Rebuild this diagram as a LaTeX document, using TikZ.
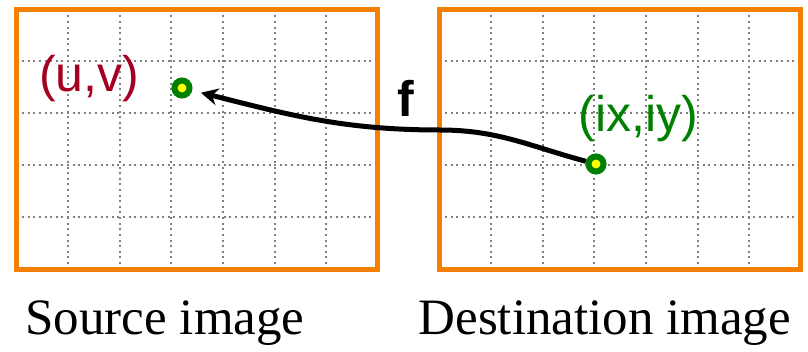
\documentclass[tikz,border=0pt]{standalone}
\usepackage{fontspec}
\setmainfont{Liberation Serif}
\newfontfamily\labelsans{Liberation Sans}
\usetikzlibrary{arrows.meta}
\usepackage{xcolor}
\definecolor{frameorange}{HTML}{F57F00}
\definecolor{gridgray}{HTML}{808080}
\definecolor{pointgreen}{HTML}{008000}
\definecolor{pointyellow}{HTML}{FFFF00}
\definecolor{coordred}{HTML}{A50021}

\tikzset{
  imgframe/.style={draw=frameorange, line width=5pt},
  pixgrid/.style={gridgray, line width=2pt, dash pattern=on 2pt off 3.6pt},
  samplept/.style={circle, draw=pointgreen, fill=pointyellow, line width=6pt,
    minimum size=15pt, inner sep=0pt},
  mapline/.style={-{Stealth[length=17pt,width=17pt]}, line width=5pt, shorten >=9pt},
  coordtext/.style={anchor=base, font=\labelsans\fontsize{50}{50}\selectfont},
  captext/.style={anchor=base west, font=\fontsize{51}{51}\selectfont},
}

\begin{document}
\begin{tikzpicture}[x=1pt, y=1pt]

% === Size ===
\useasboundingbox (0,0) rectangle (808,351);

% === Source image: pixel grid ===
\foreach \i in {1,...,6} {
  \draw[pixgrid] (16.5+\i*51.6, 81.5) -- (16.5+\i*51.6, 341.5);
}
\foreach \j in {1,...,4} {
  \draw[pixgrid] (16.5, 81.5+\j*52) -- (377.7, 81.5+\j*52);
}

% === Destination image: pixel grid ===
\foreach \i in {1,...,6} {
  \draw[pixgrid] (439.5+\i*51.6, 81.5) -- (439.5+\i*51.6, 341.5);
}
\foreach \j in {1,...,4} {
  \draw[pixgrid] (439.5, 81.5+\j*52) -- (800.7, 81.5+\j*52);
}

% === Frames ===
\draw[imgframe] (16.5, 81.5) rectangle (377.7, 341.5);
\draw[imgframe] (439.5, 81.5) rectangle (800.7, 341.5);

% === Sample points ===
\node[samplept] (srcpt) at (182, 263) {};
\node[samplept] (dstpt) at (596, 187) {};

% Labels
\node[coordtext, text=coordred] (srclabel) at (89, 259) {(u,v)};
\node[coordtext, text=pointgreen] (dstlabel) at (638.5, 219) {(ix,iy)};
\node[coordtext, font=\labelsans\bfseries\fontsize{50}{50}\selectfont] (maplabel) at (406, 234) {f};

% === Mapping f ===
\coordinate (bend) at (440, 221);
\draw[mapline] (dstpt) to[out=165, in=0] (bend) to[out=180, in=-14] (srcpt);

% === Captions ===
\node[captext] (srccap) at (22, 17) {Source image};
\node[captext] (dstcap) at (415, 17) {Destination image};

\end{tikzpicture}
\end{document}
